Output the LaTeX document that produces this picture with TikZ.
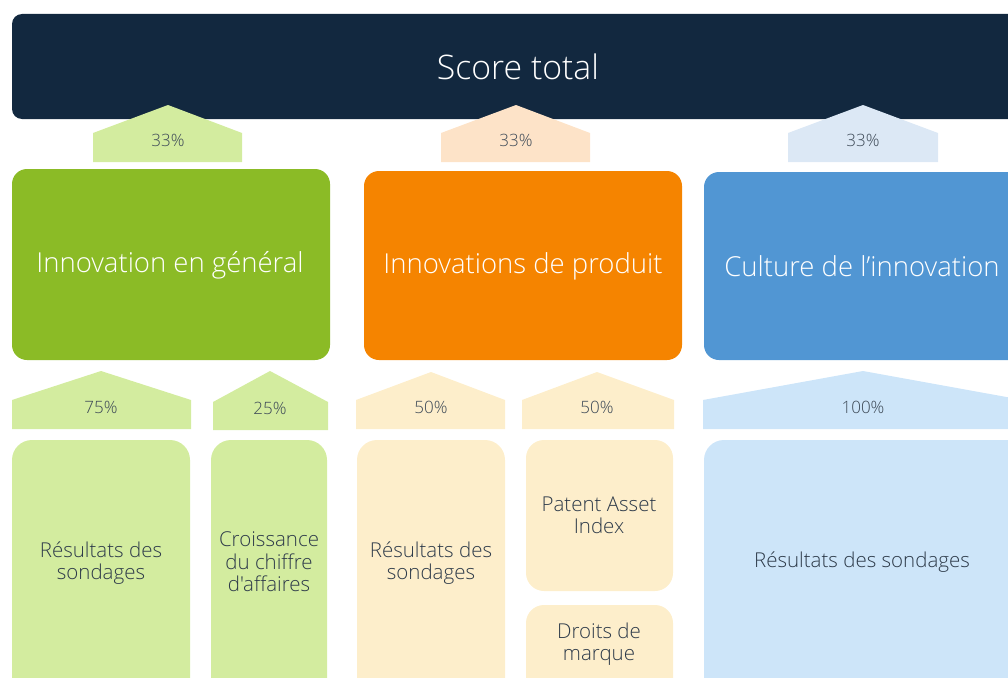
\documentclass[tikz,border=0pt]{standalone}
\usepackage{fontspec}
\IfFontExistsTF{Open Sans Light}{\setmainfont{Open Sans Light}[Ligatures=TeXOff]}{\setmainfont{Open Sans}[Ligatures=TeXOff]}
\definecolor{navy}{HTML}{12283F}
\definecolor{grn}{HTML}{8BBB26}
\definecolor{grnl}{HTML}{D3EC9F}
\definecolor{org}{HTML}{F58400}
\definecolor{orgt}{HTML}{FDE3C8}
\definecolor{orgl}{HTML}{FDEECB}
\definecolor{blu}{HTML}{5196D3}
\definecolor{blut}{HTML}{DCE8F5}
\definecolor{blul}{HTML}{CDE5F9}
\definecolor{txt}{HTML}{2E3B4A}
\definecolor{pct}{HTML}{3F4B58}
\tikzset{
  maintext/.style={text=white,font=\fontsize{27.5}{32}\selectfont,inner sep=0pt},
  subtext/.style={text=txt,font=\fontsize{20.5}{22.5}\selectfont,align=center,inner sep=0pt},
  pcttext/.style={text=pct,font=\fontsize{17}{20}\selectfont,inner sep=0pt},
}
\begin{document}
\begin{tikzpicture}[x=1pt,y=-1pt]
\useasboundingbox (0,0) rectangle (1008,677);
\clip (0,0) rectangle (1008,677);
% top bar
\fill[navy,rounded corners=10pt] (12,14) rectangle (1030,119);
\node[text=white,font=\fontsize{33.8}{40}\selectfont,inner sep=0pt] (score) at (518,67) {Score total};
% top pentagons
\fill[grnl] (93,162) -- (93,133) -- (168,105) -- (242,133) -- (242,162) -- cycle;
\node[pcttext] (p1) at (168,140) {33\%};
\fill[orgt] (441,162) -- (441,133) -- (516,105) -- (590,133) -- (590,162) -- cycle;
\node[pcttext] (p2) at (516,140) {33\%};
\fill[blut] (788,162) -- (788,133) -- (863,105) -- (938,133) -- (938,162) -- cycle;
\node[pcttext] (p3) at (863,140) {33\%};
% middle boxes
\fill[grn,rounded corners=15pt] (12,169) rectangle (330,360);
\node[maintext] (m1) at (170,265) {Innovation en général};
\fill[org,rounded corners=15pt] (364,171) rectangle (682,360);
\node[maintext] (m2) at (523,266) {Innovations de produit};
\fill[blu,rounded corners=15pt] (704,172) rectangle (1030,360);
\node[maintext] (m3) at (862,266) {Culture de l’innovation};
% bottom pentagons
\fill[grnl] (12,429) -- (12,400) -- (101,371) -- (191,400) -- (191,429) -- cycle;
\node[pcttext] (q1) at (101,407) {75\%};
\fill[grnl] (213,430) -- (213,402) -- (270,371) -- (328,402) -- (328,430) -- cycle;
\node[pcttext] (q2) at (270,408) {25\%};
\fill[orgl] (356,429) -- (356,400) -- (431,372) -- (505,400) -- (505,429) -- cycle;
\node[pcttext] (q3) at (431,407) {50\%};
\fill[orgl] (522,429) -- (522,400) -- (597,372) -- (674,400) -- (674,429) -- cycle;
\node[pcttext] (q4) at (597,407) {50\%};
\fill[blul] (703,429) -- (703,400) -- (863,371) -- (1023,400) -- (1023,429) -- cycle;
\node[pcttext] (q5) at (863,407) {100\%};
% bottom boxes
\fill[grnl,rounded corners=20pt] (12,440) rectangle (190,720);
\node[subtext] (b1) at (101,563) {Résultats des\\sondages};
\fill[grnl,rounded corners=20pt] (211,440) rectangle (327,720);
\node[subtext] (b2) at (269,562) {Croissance\\du chiffre\\d'affaires};
\fill[orgl,rounded corners=20pt] (357,440) rectangle (505,720);
\node[subtext] (b3) at (431,563) {Résultats des\\sondages};
\fill[orgl,rounded corners=18pt] (526,440) rectangle (673,591);
\node[subtext] (b4) at (599,515) {Patent Asset\\Index};
\fill[orgl,rounded corners=18pt] (526,605) rectangle (673,720);
\node[subtext] (b5) at (599,644) {Droits de\\marque};
\fill[blul,rounded corners=20pt] (704,440) rectangle (1040,720);
\node[subtext] (b6) at (862,562) {Résultats des sondages};
\end{tikzpicture}
\end{document}
